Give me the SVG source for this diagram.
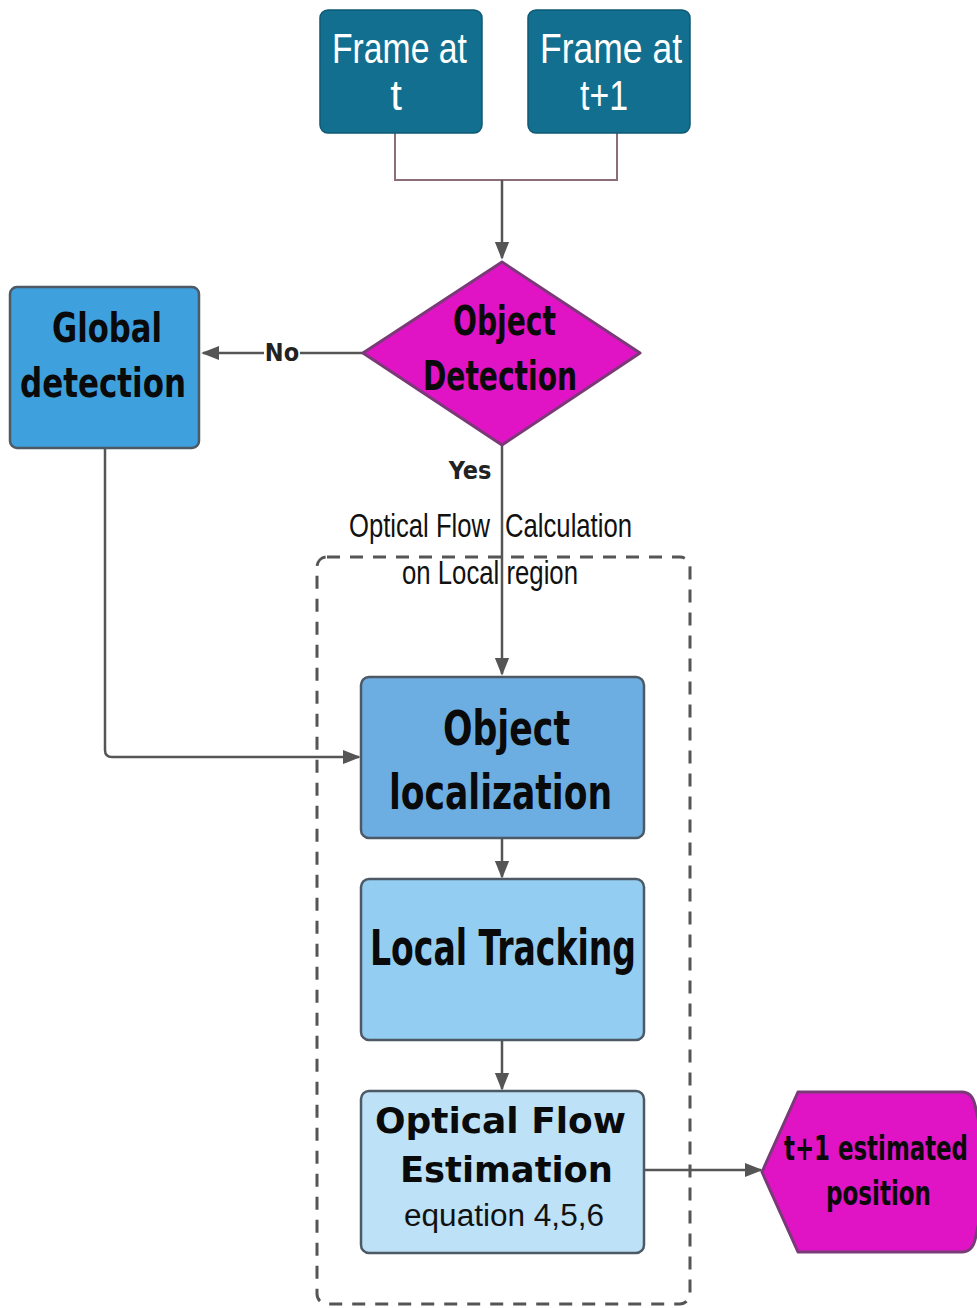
<svg xmlns="http://www.w3.org/2000/svg" width="977" height="1308" viewBox="0 0 977 1308">
<defs>
<style>
.frame{fill:#136f90;stroke:#0e5a75;stroke-width:1.5}
.node{stroke:#4d5a66;stroke-width:2.5}
.ft{font-family:"Liberation Sans",Arial,sans-serif;fill:#fff;font-size:42px}
.bc{font-family:"DejaVu Sans Condensed","DejaVu Sans",sans-serif;font-weight:bold;fill:#0a0a0a}
.bd{font-family:"DejaVu Sans",sans-serif;font-weight:bold;fill:#0a0a0a}
.reg{font-family:"Liberation Sans",Arial,sans-serif;fill:#111}
.lbl{font-family:"DejaVu Sans Condensed","DejaVu Sans",sans-serif;font-weight:bold;fill:#222;font-size:25px}
.conn{fill:none;stroke:#555;stroke-width:2.5}
.join{fill:none;stroke:#8b6e7a;stroke-width:2}
</style>
<marker id="arrL" viewBox="0 0 10 10" refX="9" refY="5" markerWidth="18" markerHeight="18" orient="auto" markerUnits="userSpaceOnUse">
<path d="M0,1 L10,5 L0,9 z" fill="#555"/>
</marker>
</defs>
<rect width="977" height="1308" fill="#fff"/>

<g id="region">
<rect x="317" y="557" width="373" height="747" rx="10" fill="none" stroke="#555" stroke-width="3" stroke-dasharray="13 10"/>
</g>

<g id="region-label">
<text class="reg" x="349" y="537" font-size="34" textLength="141" lengthAdjust="spacingAndGlyphs">Optical Flow</text>
<text class="reg" x="505" y="537" font-size="34" textLength="127" lengthAdjust="spacingAndGlyphs">Calculation</text>
<text class="reg" x="402" y="584" font-size="34" textLength="176" lengthAdjust="spacingAndGlyphs">on Local region</text>
</g>

<g id="connectors">
<path class="join" d="M395,133 V180 H617 V133"/>
<path class="conn" d="M502,180 V258" marker-end="url(#arrL)"/>
<path class="conn" d="M363,353 H203" marker-end="url(#arrL)"/>
<path class="conn" d="M502,445 V674" marker-end="url(#arrL)"/>
<path class="conn" d="M105,448 V750 Q105,757 112,757 H359" marker-end="url(#arrL)"/>
<path class="conn" d="M502,838 V877" marker-end="url(#arrL)"/>
<path class="conn" d="M502,1040 V1089" marker-end="url(#arrL)"/>
<path class="conn" d="M644,1170 H761" marker-end="url(#arrL)"/>
<rect x="264" y="336" width="36" height="32" fill="#fff"/>
<text class="lbl" x="282" y="361" text-anchor="middle">No</text>
<text class="lbl" x="470" y="479" text-anchor="middle">Yes</text>
</g>

<g id="frame-t">
<rect class="frame" x="320" y="10" width="162" height="123" rx="8"/>
<text class="ft" x="332" y="63" textLength="135" lengthAdjust="spacingAndGlyphs">Frame at</text>
<text class="ft" x="396" y="110" text-anchor="middle">t</text>
</g>

<g id="frame-t1">
<rect class="frame" x="528" y="10" width="162" height="123" rx="8"/>
<text class="ft" x="540" y="63" textLength="142" lengthAdjust="spacingAndGlyphs">Frame at</text>
<text class="ft" x="604" y="110" text-anchor="middle" textLength="48" lengthAdjust="spacingAndGlyphs">t+1</text>
</g>

<g id="object-detection">
<path d="M502,262 L640,353 L502,445 L363,353 Z" fill="#e014c4" stroke="#7a3a78" stroke-width="3" stroke-linejoin="round"/>
<text class="bc" x="453" y="335" font-size="40" textLength="103" lengthAdjust="spacingAndGlyphs">Object</text>
<text class="bc" x="423" y="390" font-size="40" textLength="154" lengthAdjust="spacingAndGlyphs">Detection</text>
</g>

<g id="global-detection">
<rect class="node" x="10" y="287" width="189" height="161" rx="7" fill="#3ea0dd"/>
<text class="bc" x="52" y="342" font-size="40" textLength="110" lengthAdjust="spacingAndGlyphs">Global</text>
<text class="bc" x="20" y="397" font-size="40" textLength="166" lengthAdjust="spacingAndGlyphs">detection</text>
</g>

<g id="object-localization">
<rect class="node" x="361" y="677" width="283" height="161" rx="8" fill="#6daee2"/>
<text class="bc" x="443" y="745" font-size="48" textLength="127" lengthAdjust="spacingAndGlyphs">Object</text>
<text class="bc" x="389" y="809" font-size="48" textLength="223" lengthAdjust="spacingAndGlyphs">localization</text>
</g>

<g id="local-tracking">
<rect class="node" x="361" y="879" width="283" height="161" rx="8" fill="#93cef2"/>
<text class="bc" x="370" y="965" font-size="50" textLength="266" lengthAdjust="spacingAndGlyphs">Local Tracking</text>
</g>

<g id="optical-flow-estimation">
<rect class="node" x="361" y="1091" width="283" height="162" rx="8" fill="#bde1f6"/>
<text class="bd" x="375" y="1133" font-size="36" textLength="251" lengthAdjust="spacingAndGlyphs">Optical Flow</text>
<text class="bd" x="400" y="1182" font-size="36" textLength="213" lengthAdjust="spacingAndGlyphs">Estimation</text>
<text class="reg" x="404" y="1226" font-size="31" textLength="200" lengthAdjust="spacingAndGlyphs">equation 4,5,6</text>
</g>

<g id="estimated-position">
<path d="M762,1172 L798,1092 L962,1092 Q972,1092 975,1105 L990,1172 L975,1240 Q972,1252 962,1252 L798,1252 Z" fill="#e014c4" stroke="#7a3a78" stroke-width="3" stroke-linejoin="round"/>
<text class="bc" x="784" y="1160" font-size="34" textLength="184" lengthAdjust="spacingAndGlyphs" fill="#2a0a2a">t+1 estimated</text>
<text class="bc" x="826" y="1205" font-size="34" textLength="105" lengthAdjust="spacingAndGlyphs" fill="#2a0a2a">position</text>
</g>
</svg>
